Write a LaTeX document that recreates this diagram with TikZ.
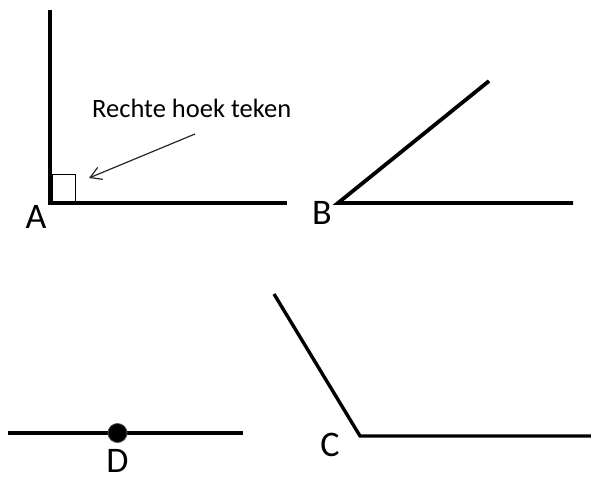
\documentclass[tikz,border=0pt]{standalone}
\usepackage{fontspec}
\setmainfont{Carlito}
\usetikzlibrary{arrows.meta}
\begin{document}
\begin{tikzpicture}[x=1pt,y=-1pt,
  ray/.style={line width=3.8pt,line cap=butt},
  lbl/.style={inner sep=0pt,font=\fontsize{36}{40}\selectfont},
  note/.style={inner sep=0pt,font=\fontsize{26.5}{30}\selectfont,anchor=base west},
  pointer/.style={line width=1.2pt,draw=black!85,-{Straight Barb[length=11pt,width=13pt,line width=1.2pt]}}]
\useasboundingbox (0,0) rectangle (591,477);
% angle A
\coordinate (Atop) at (50,10);
\coordinate (A) at (50,203);
\coordinate (Aend) at (287,203);
\draw[ray,line join=miter] (Atop) -- (A) -- (Aend);
\node[draw,line width=0.9pt,inner sep=0pt,minimum width=23pt,minimum height=27pt,anchor=south west] (sq) at (52,201.5) {};
\node[lbl] (Alab) at (36,216.5) {A};
\node[note] (txt) at (92,117) {Rechte hoek teken};
\coordinate (arrS) at (195,134);
\coordinate (arrE) at (89,178);
\draw[pointer] (arrS) -- (arrE);
% angle B
\coordinate (B) at (338,203);
\coordinate (Btop) at (489,81);
\coordinate (Bend) at (573,203);
\draw[ray,line join=miter] (Btop) -- (B) -- (Bend);
\node[lbl] (Blab) at (322,213) {B};
% line D
\coordinate (Dl) at (8,433);
\coordinate (Dr) at (243,433);
\draw[ray,line width=3.4pt] (Dl) -- (Dr);
\node[circle,fill=black,draw=black!70,line width=0.8pt,minimum size=19pt,inner sep=0pt] (D) at (117.5,433) {};
\node[lbl] (Dlab) at (117.5,461) {D};
% angle C
\coordinate (Ctop) at (274,294);
\coordinate (C) at (360,436);
\coordinate (Cend) at (591,436);
\draw[ray,line width=3.4pt,line join=miter] (Ctop) -- (C) -- (Cend);
\node[lbl] (Clab) at (330,444.5) {C};
\end{tikzpicture}
\end{document}
